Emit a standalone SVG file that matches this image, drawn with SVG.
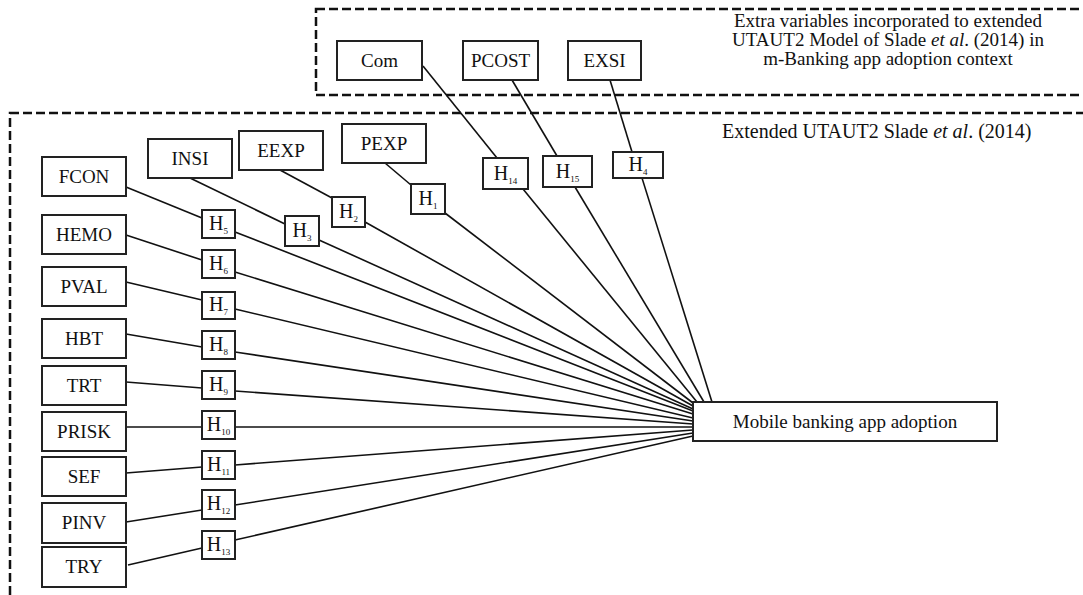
<svg xmlns="http://www.w3.org/2000/svg" width="1083" height="595" viewBox="0 0 1083 595">
<style>
.bx{fill:#fff;stroke:#222;stroke-width:2}
.t{font-family:"Liberation Serif","Times New Roman",serif;font-size:19px;fill:#111;text-anchor:middle}
.h{font-family:"Liberation Serif","Times New Roman",serif;font-size:20px;fill:#111;text-anchor:middle}
.s{font-size:9px}
.c line{stroke:#111;stroke-width:1.6}
.d{fill:none;stroke:#111;stroke-width:2.5;stroke-dasharray:9 4}
.lbl{font-family:"Liberation Serif","Times New Roman",serif;font-size:19px;fill:#111}
</style>
<rect width="1083" height="595" fill="#fff"/>
<g id="extra-group">
<rect class="d" x="316" y="9" width="800" height="86"/>
<text class="lbl" text-anchor="middle" x="888" y="27">Extra variables incorporated to extended</text>
<text class="lbl" text-anchor="middle" x="888" y="46">UTAUT2 Model of Slade <tspan font-style="italic">et al</tspan>. (2014) in</text>
<text class="lbl" text-anchor="middle" x="888" y="65">m-Banking app adoption context</text>
</g>
<g id="utaut2-group">
<rect class="d" x="10" y="113" width="1110" height="600"/>
<text class="lbl" x="722" y="138" style="font-size:20px">Extended UTAUT2 Slade <tspan font-style="italic">et al</tspan>. (2014)</text>
</g>
<g id="connectors" class="c">
<line x1="423" y1="66" x2="497" y2="158"/>
<line x1="523" y1="189" x2="697" y2="402"/>
<line x1="512" y1="80" x2="557" y2="156"/>
<line x1="575" y1="187" x2="704" y2="402"/>
<line x1="610" y1="80" x2="632" y2="152"/>
<line x1="642" y1="178" x2="712" y2="402"/>
<line x1="385" y1="163" x2="411" y2="185"/>
<line x1="445" y1="213" x2="693" y2="403"/>
<line x1="280" y1="170" x2="332" y2="198"/>
<line x1="365" y1="222" x2="693" y2="406"/>
<line x1="190" y1="178" x2="285" y2="224"/>
<line x1="319" y1="240" x2="693" y2="409"/>
<line x1="126" y1="187" x2="202" y2="218"/>
<line x1="235" y1="232" x2="693" y2="411"/>
<line x1="126" y1="235" x2="202" y2="260"/>
<line x1="235" y1="272" x2="693" y2="414"/>
<line x1="126" y1="282" x2="202" y2="300"/>
<line x1="235" y1="309" x2="693" y2="418"/>
<line x1="126" y1="334" x2="202" y2="347"/>
<line x1="235" y1="352" x2="693" y2="421"/>
<line x1="126" y1="382" x2="202" y2="388"/>
<line x1="235" y1="391" x2="693" y2="424"/>
<line x1="126" y1="427" x2="202" y2="427"/>
<line x1="235" y1="427" x2="693" y2="427"/>
<line x1="126" y1="473" x2="202" y2="467"/>
<line x1="235" y1="465" x2="693" y2="430"/>
<line x1="126" y1="522" x2="202" y2="510"/>
<line x1="235" y1="505" x2="693" y2="433"/>
<line x1="128" y1="565" x2="202" y2="548"/>
<line x1="235" y1="540" x2="693" y2="436"/>
</g>
<g id="Com"><rect class="bx" x="337" y="41" width="85" height="39"/><text class="t" x="379.5" y="67">Com</text></g>
<g id="PCOST"><rect class="bx" x="463" y="41" width="75" height="39"/><text class="t" x="500.5" y="67">PCOST</text></g>
<g id="EXSI"><rect class="bx" x="568" y="41" width="73" height="39"/><text class="t" x="604.5" y="67">EXSI</text></g>
<g id="INSI"><rect class="bx" x="148" y="139" width="84" height="39"/><text class="t" x="190" y="165">INSI</text></g>
<g id="EEXP"><rect class="bx" x="239" y="131" width="84" height="39"/><text class="t" x="281" y="157">EEXP</text></g>
<g id="PEXP"><rect class="bx" x="342" y="124" width="84" height="39"/><text class="t" x="384" y="150">PEXP</text></g>
<g id="FCON"><rect class="bx" x="42" y="157" width="84" height="39"/><text class="t" x="84" y="183">FCON</text></g>
<g id="HEMO"><rect class="bx" x="42" y="215" width="84" height="39"/><text class="t" x="84" y="241">HEMO</text></g>
<g id="PVAL"><rect class="bx" x="42" y="267" width="84" height="39"/><text class="t" x="84" y="293">PVAL</text></g>
<g id="HBT"><rect class="bx" x="42" y="319" width="84" height="39"/><text class="t" x="84" y="345">HBT</text></g>
<g id="TRT"><rect class="bx" x="42" y="366" width="84" height="39"/><text class="t" x="84" y="392">TRT</text></g>
<g id="PRISK"><rect class="bx" x="42" y="412" width="84" height="39"/><text class="t" x="84" y="438">PRISK</text></g>
<g id="SEF"><rect class="bx" x="42" y="457" width="84" height="39"/><text class="t" x="84" y="483">SEF</text></g>
<g id="PINV"><rect class="bx" x="42" y="503" width="84" height="40"/><text class="t" x="84" y="529">PINV</text></g>
<g id="TRY"><rect class="bx" x="42" y="547" width="84" height="40"/><text class="t" x="84" y="573">TRY</text></g>
<g id="H1"><rect class="bx" x="411" y="184" width="34" height="30"/><text class="h" x="428" y="205">H<tspan class="s" dy="4">1</tspan></text></g>
<g id="H2"><rect class="bx" x="332" y="197" width="33" height="30"/><text class="h" x="348.5" y="218">H<tspan class="s" dy="4">2</tspan></text></g>
<g id="H3"><rect class="bx" x="285" y="216" width="34" height="30"/><text class="h" x="302" y="237">H<tspan class="s" dy="4">3</tspan></text></g>
<g id="H4"><rect class="bx" x="613" y="152" width="50" height="26"/><text class="h" x="638" y="171">H<tspan class="s" dy="4">4</tspan></text></g>
<g id="H5"><rect class="bx" x="202" y="210" width="33" height="28"/><text class="h" x="218.5" y="230">H<tspan class="s" dy="4">5</tspan></text></g>
<g id="H6"><rect class="bx" x="202" y="250" width="33" height="28"/><text class="h" x="218.5" y="270">H<tspan class="s" dy="4">6</tspan></text></g>
<g id="H7"><rect class="bx" x="202" y="292" width="33" height="27"/><text class="h" x="218.5" y="311">H<tspan class="s" dy="4">7</tspan></text></g>
<g id="H8"><rect class="bx" x="202" y="331" width="33" height="28"/><text class="h" x="218.5" y="351">H<tspan class="s" dy="4">8</tspan></text></g>
<g id="H9"><rect class="bx" x="202" y="371" width="33" height="28"/><text class="h" x="218.5" y="391">H<tspan class="s" dy="4">9</tspan></text></g>
<g id="H10"><rect class="bx" x="202" y="411" width="33" height="28"/><text class="h" x="218.5" y="431">H<tspan class="s" dy="4">10</tspan></text></g>
<g id="H11"><rect class="bx" x="202" y="451" width="33" height="28"/><text class="h" x="218.5" y="471">H<tspan class="s" dy="4">11</tspan></text></g>
<g id="H12"><rect class="bx" x="202" y="490" width="33" height="29"/><text class="h" x="218.5" y="510">H<tspan class="s" dy="4">12</tspan></text></g>
<g id="H13"><rect class="bx" x="202" y="531" width="33" height="28"/><text class="h" x="218.5" y="551">H<tspan class="s" dy="4">13</tspan></text></g>
<g id="H14"><rect class="bx" x="483" y="158" width="45" height="31"/><text class="h" x="505.5" y="180">H<tspan class="s" dy="4">14</tspan></text></g>
<g id="H15"><rect class="bx" x="543" y="156" width="49" height="31"/><text class="h" x="567.5" y="178">H<tspan class="s" dy="4">15</tspan></text></g>
<g id="Mobile"><rect class="bx" x="693" y="402" width="304" height="39"/><text class="t" x="845" y="428">Mobile banking app adoption</text></g>
</svg>
